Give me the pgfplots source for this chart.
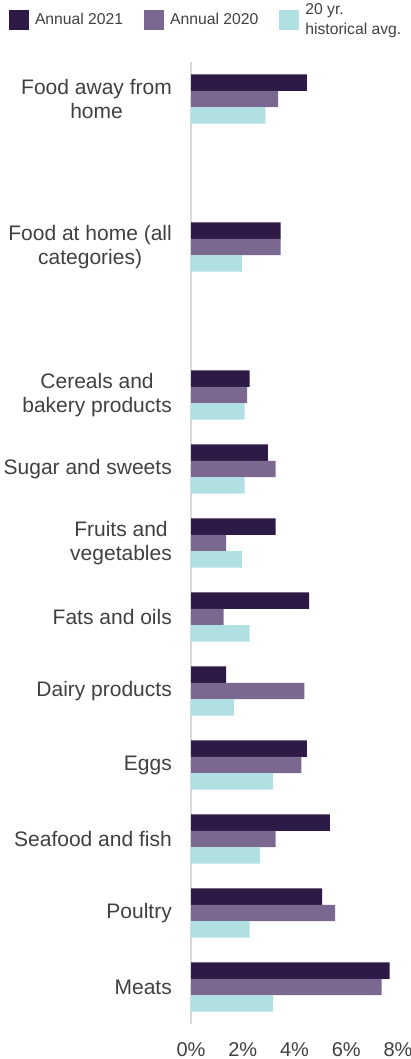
\documentclass[border=0pt]{standalone}
\usepackage{fontspec}
\setmainfont{Liberation Sans}
\usepackage{pgfplots}
\usepackage{pgfplotstable}
\pgfplotsset{compat=1.18}
\definecolor{c21}{HTML}{2E1A47}
\definecolor{c20}{HTML}{7B6890}
\definecolor{cavg}{HTML}{B0E0E2}
\definecolor{txt}{HTML}{404040}
\definecolor{axisgray}{HTML}{D9D9D9}
\pgfplotstableread{
y a21 a20 avg
0 7.68 7.37 3.17
1 5.07 5.57 2.27
2 5.37 3.27 2.66
3 4.48 4.27 3.17
4 1.36 4.38 1.66
5 4.57 1.26 2.27
6 3.27 1.36 1.97
7 2.97 3.27 2.07
8 2.27 2.17 2.07
10 3.46 3.46 1.97
12 4.48 3.37 2.87
}\datatable
\begin{document}
\begin{tikzpicture}
\useasboundingbox (0,0) rectangle (411pt,1059pt);
\begin{axis}[
  at={(191pt,35pt)}, anchor=south west,
  scale only axis, width=207pt, height=962pt,
  xmin=0, xmax=8, ymin=-0.5, ymax=12.5,
  axis lines*=left,
  x axis line style={draw=none},
  y axis line style={draw=axisgray, line width=1.5pt},
  major tick length=0pt,
  xtick={0,2,4,6,8},
  xticklabels={0\%,2\%,4\%,6\%,8\%},
  ytick={0,1,2,3,4,5,6,7,8,10,12},
  yticklabels={Meats,Poultry,Seafood and fish,Eggs,Dairy products,Fats and oils,Fruits and\\vegetables,Sugar and sweets,Cereals and\\bakery products,Food at home (all\\categories),Food away from\\home},
  xticklabel style={font=\fontsize{20}{24}\selectfont, text=txt, inner sep=0pt, yshift=-18pt},
  yticklabel style={font=\fontsize{21}{24}\selectfont, text=txt, align=center, inner sep=0pt, xshift=-19pt},
  xbar, bar width=16.4pt,
  legend style={at={(-0.8792,1.0606)}, anchor=north west, draw=none, fill=none,
    inner sep=0pt, outer sep=0pt, legend columns=3,
    font=\fontsize{15.7}{20}\selectfont, text=txt,
    /tikz/every odd column/.style={column sep=6pt},
    /tikz/every even column/.style={column sep=21pt},
    nodes={inner sep=0pt, align=left}},
  legend cell align=left,
  legend image code/.code={\fill[#1] (0pt,-10pt) rectangle (20pt,10pt);},
]
\addplot[fill=c21, draw=none, bar shift=16.4pt] table[x=a21, y=y] {\datatable};
\addplot[fill=c20, draw=none, bar shift=0pt] table[x=a20, y=y] {\datatable};
\addplot[fill=cavg, draw=none, bar shift=-16.4pt] table[x=avg, y=y] {\datatable};
\legend{Annual 2021, Annual 2020, 20 yr.\\historical avg.}
\end{axis}
\end{tikzpicture}
\end{document}
